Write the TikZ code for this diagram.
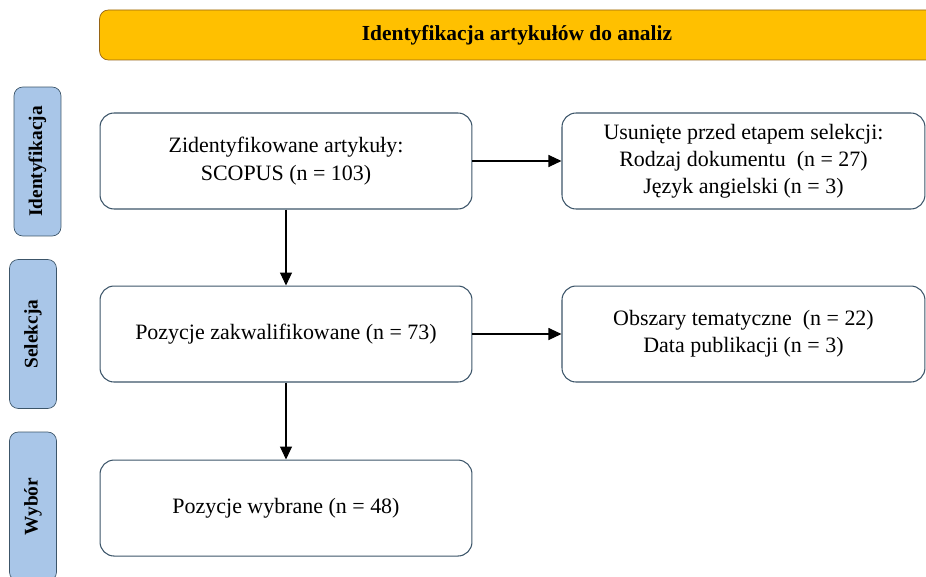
\documentclass[tikz,border=0pt]{standalone}
\usepackage{fontspec}
\setmainfont{Liberation Serif}
\usetikzlibrary{arrows.meta}
\usetikzlibrary{positioning}
\definecolor{headfill}{RGB}{255,192,0}
\definecolor{headline}{RGB}{150,100,20}
\definecolor{phasefill}{RGB}{169,198,232}
\definecolor{boxline}{RGB}{60,85,105}
\tikzstyle{header} = [rectangle, rounded corners=5pt, minimum width=16.7cm, minimum height=1cm, text centered, draw=headline, fill=headfill, font=\bfseries\fontsize{12.2}{15}\selectfont]
\tikzstyle{phase} = [rectangle, rounded corners=5pt, rotate=90, minimum width=2.98cm, minimum height=0.94cm, text centered, draw=boxline, fill=phasefill, font=\bfseries\fontsize{11}{13}\selectfont]
\tikzstyle{stage} = [rectangle, rounded corners=8pt, minimum width=7.44cm, minimum height=1.92cm, align=center, draw=boxline, fill=white, line width=0.6pt, font=\fontsize{12.5}{15.5}\selectfont]
\tikzstyle{removed} = [stage, minimum width=7.26cm]
\tikzstyle{arrow} = [line width=0.6pt, -{Triangle[length=2.6mm, width=2.4mm]}]

\begin{document}
\begin{tikzpicture}[x=0.02cm, y=-0.02cm]
\useasboundingbox (0,0) rectangle (926,577);

\node (head) [header] at (517,35) {Identyfikacja artykułów do analiz};

\node (p1) [phase] at (37.5,161.5) {Identyfikacja};
\node (p2) [phase] at (33,334) {Selekcja};
\node (p3) [phase] at (33,506.5) {Wybór};

\node (found) [stage] at (286,161) {Zidentyfikowane artykuły:\\SCOPUS (n = 103)};
\node (qual) [stage, below=1.52cm of found] {Pozycje zakwalifikowane (n = 73)};
\node (chosen) [stage, below=1.54cm of qual] {Pozycje wybrane (n = 48)};

\node (drop1) [removed, right=1.78cm of found] {Usunięte przed etapem selekcji:\\Rodzaj dokumentu~~(n = 27)\\Język angielski (n = 3)};
\node (drop2) [removed, right=1.78cm of qual] {Obszary tematyczne~~(n = 22)\\Data publikacji (n = 3)};

\draw [arrow] (found) -- (qual);
\draw [arrow] (qual) -- (chosen);
\draw [arrow] (found) -- (drop1);
\draw [arrow] (qual) -- (drop2);
\end{tikzpicture}
\end{document}
